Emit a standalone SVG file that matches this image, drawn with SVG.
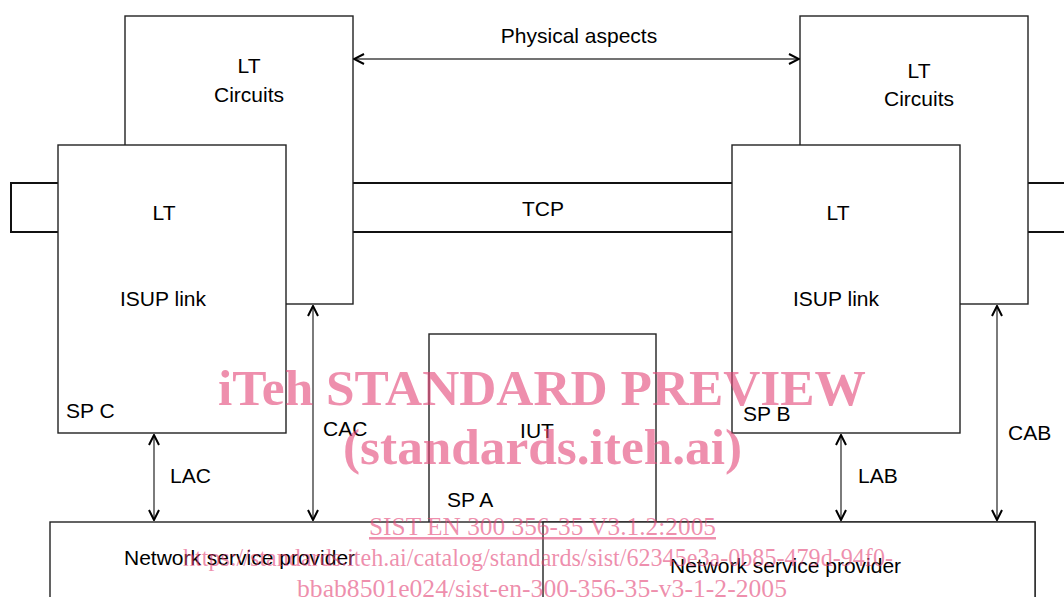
<svg xmlns="http://www.w3.org/2000/svg" width="1064" height="597" viewBox="0 0 1064 597">
  <style>
    .box { fill: #ffffff; stroke: #222222; stroke-width: 1.4; }
    .band { fill: #ffffff; stroke: #111111; stroke-width: 2; }
    .lbl { font-family: "Liberation Sans", Arial, sans-serif; font-size: 21px; fill: #000000; }
    .mid { text-anchor: middle; }
    .conn { stroke: #444444; stroke-width: 1.4; fill: none; }
    .wm { font-family: "Liberation Serif", "Times New Roman", serif; fill: #e34476; fill-opacity: 0.6; }
    .wmb { font-weight: bold; font-size: 50px; }
    .wmn { font-size: 25px; }
  </style>
  <defs>
    <marker id="arrow" viewBox="0 0 12 12" refX="11" refY="6" markerWidth="12" markerHeight="12" markerUnits="userSpaceOnUse" orient="auto-start-reverse">
      <path d="M1,1 L11,6 L1,11" fill="none" stroke="#000000" stroke-width="2"/>
    </marker>
  </defs>

  <rect width="1064" height="597" fill="#ffffff"/>

  <!-- TCP transport band running behind both signalling points -->
  <g id="tcp-band">
    <rect class="band" x="11" y="183" width="1070" height="49"/>
    <text class="lbl mid" x="543" y="216">TCP</text>
  </g>

  <!-- SP C: circuits layer -->
  <g id="sp-c-circuits">
    <rect class="box" x="125" y="16" width="228" height="288"/>
    <text class="lbl mid" x="249" y="73">LT</text>
    <text class="lbl mid" x="249" y="102">Circuits</text>
  </g>

  <!-- SP B: circuits layer -->
  <g id="sp-b-circuits">
    <rect class="box" x="800" y="16" width="228" height="288"/>
    <text class="lbl mid" x="919" y="78">LT</text>
    <text class="lbl mid" x="919" y="106">Circuits</text>
  </g>

  <!-- SP C: ISUP link layer -->
  <g id="sp-c-link">
    <rect class="box" x="58" y="145" width="228" height="288"/>
    <text class="lbl mid" x="164" y="220">LT</text>
    <text class="lbl mid" x="163" y="306">ISUP link</text>
    <text class="lbl" x="66" y="418">SP C</text>
  </g>

  <!-- SP B: ISUP link layer -->
  <g id="sp-b-link">
    <rect class="box" x="732" y="145" width="228" height="288"/>
    <text class="lbl mid" x="838" y="220">LT</text>
    <text class="lbl mid" x="836" y="306">ISUP link</text>
    <text class="lbl" x="743" y="421">SP B</text>
  </g>

  <!-- SP A: implementation under test -->
  <g id="sp-a-iut">
    <rect class="box" x="429" y="334" width="227" height="210"/>
    <text class="lbl mid" x="537" y="438">IUT</text>
    <text class="lbl" x="447" y="507">SP A</text>
  </g>

  <!-- Network service providers -->
  <g id="nsp-left">
    <rect class="box" x="50" y="522" width="985" height="90"/>
    <text class="lbl" x="124" y="565">Network service provider</text>
  </g>
  <g id="nsp-right">
    <rect class="box" x="543" y="522" width="492" height="90"/>
    <text class="lbl" x="670" y="573">Network service provider</text>
  </g>

  <!-- Connectors -->
  <g id="connectors">
    <line class="conn" x1="354" y1="59" x2="799" y2="59" marker-start="url(#arrow)" marker-end="url(#arrow)"/>
    <line class="conn" x1="154" y1="435" x2="154" y2="520" marker-start="url(#arrow)" marker-end="url(#arrow)"/>
    <line class="conn" x1="313" y1="306" x2="313" y2="520" marker-start="url(#arrow)" marker-end="url(#arrow)"/>
    <line class="conn" x1="841" y1="435" x2="841" y2="520" marker-start="url(#arrow)" marker-end="url(#arrow)"/>
    <line class="conn" x1="997" y1="306" x2="997" y2="520" marker-start="url(#arrow)" marker-end="url(#arrow)"/>
    <text class="lbl mid" x="579" y="43">Physical aspects</text>
    <text class="lbl" x="170" y="483">LAC</text>
    <text class="lbl" x="323" y="436">CAC</text>
    <text class="lbl" x="858" y="483">LAB</text>
    <text class="lbl" x="1008" y="440">CAB</text>
  </g>

  <!-- Publisher watermark -->
  <g id="watermark" class="wm">
    <text class="wmb" x="218" y="405" textLength="648" lengthAdjust="spacingAndGlyphs">iTeh STANDARD PREVIEW</text>
    <text class="wmb" x="343" y="464" textLength="399" lengthAdjust="spacingAndGlyphs">(standards.iteh.ai)</text>
    <text class="wmn" x="369" y="535" textLength="347" lengthAdjust="spacingAndGlyphs" text-decoration="underline">SIST EN 300 356-35 V3.1.2:2005</text>
    <text class="wmn" x="183" y="566" textLength="710" lengthAdjust="spacingAndGlyphs">https://standards.iteh.ai/catalog/standards/sist/62345e3a-0b85-479d-94f0-</text>
    <text class="wmn" x="297" y="597" textLength="490" lengthAdjust="spacingAndGlyphs">bbab8501e024/sist-en-300-356-35-v3-1-2-2005</text>
  </g>
</svg>
